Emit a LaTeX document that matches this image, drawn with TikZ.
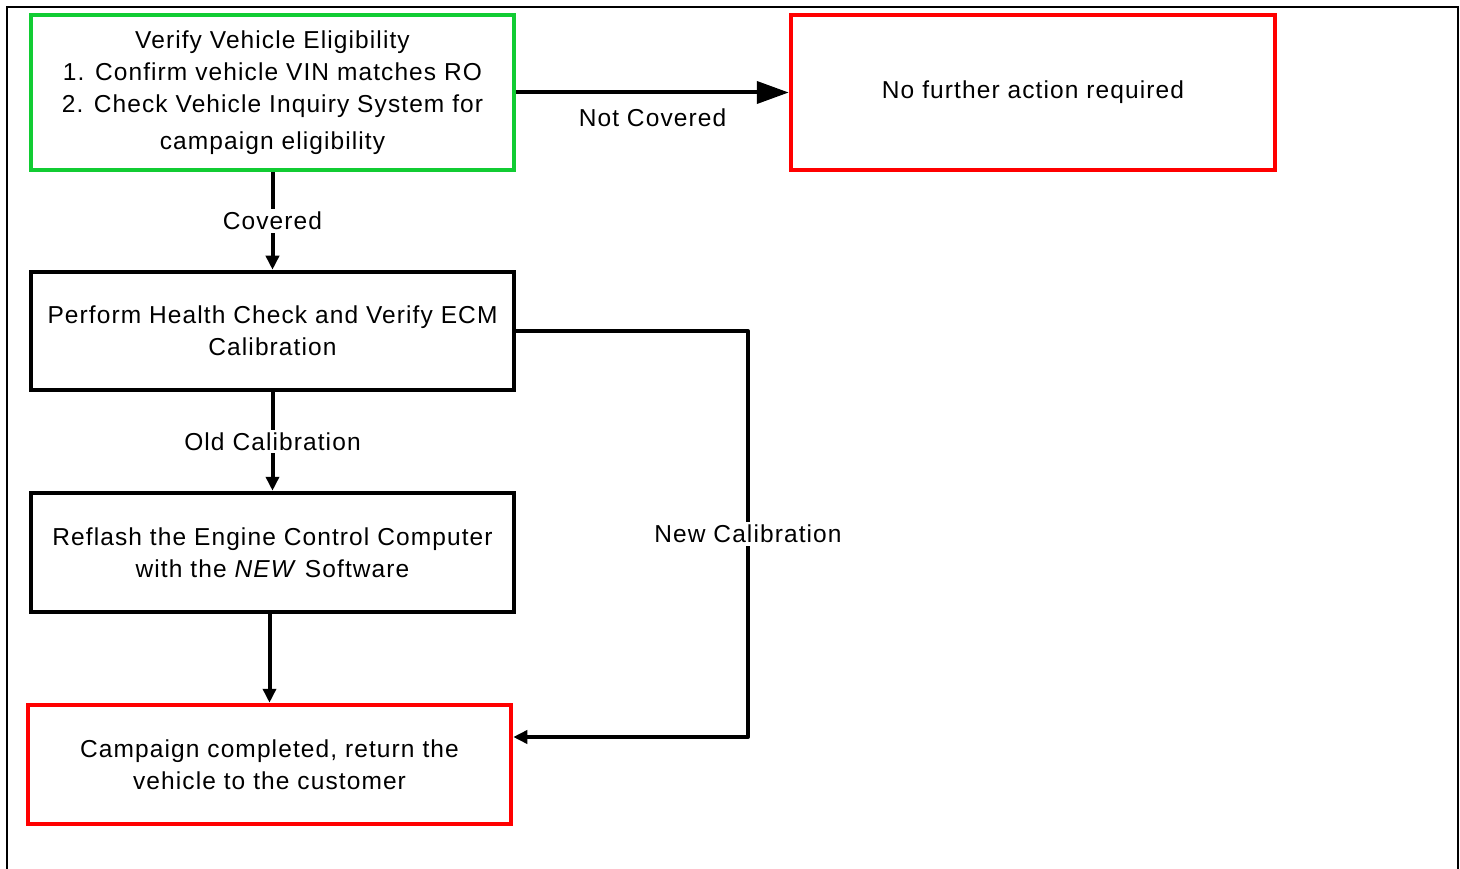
\documentclass[tikz,border=0pt]{standalone}
\usepackage{fontspec}
\setmainfont{Liberation Sans}[LetterSpace=4.5]
\usetikzlibrary{arrows.meta}
\definecolor{boxgreen}{RGB}{17,204,51}
\definecolor{boxred}{RGB}{255,0,0}
\begin{document}
\begin{tikzpicture}[x=1pt,y=-1pt,
  txt/.style={font=\fontsize{24.5}{32}\selectfont},
  box/.style={txt, draw, line width=4.5pt, minimum width=483pt, align=center, inner sep=0pt},
  arr/.style={line width=4pt, -{Triangle[length=14pt,width=13pt]}},
  bigarr/.style={line width=4pt, -{Triangle[length=32pt,width=22pt]}},
  lbl/.style={txt, fill=white, inner sep=3pt}]
\useasboundingbox (0,0) rectangle (1460,869);
\draw[line width=2pt] (7,869) -- (7,7) -- (1458,7) -- (1458,869);

\node[box, draw=boxgreen, minimum height=155pt] (g) at (272.5,92.5)
  {Verify Vehicle Eligibility\\1. Confirm vehicle VIN matches RO\\2. Check Vehicle Inquiry System for\\[5pt]campaign eligibility};
\node[box, draw=boxred, minimum width=484pt, minimum height=155pt] (r1) at (1033,92.5)
  {No further action required};
\node[box, minimum height=118pt] (b2) at (272.5,331)
  {Perform Health Check and Verify ECM\\Calibration};
\node[box, minimum height=119pt] (b3) at (272.5,552.5)
  {Reflash the Engine Control Computer\\with the \textit{NEW} Software};
\node[box, draw=boxred, minimum height=119pt] (b4) at (269.5,764.5)
  {Campaign completed, return the\\vehicle to the customer};

\draw[bigarr] (g.east) -- node[txt, inner sep=0pt, yshift=-25pt] (nclbl) {Not Covered} (r1.west);
\draw[arr] (g.south) -- node[lbl] (cov) {Covered} (b2.north);
\draw[arr] (b2.south) -- node[lbl] (old) {Old Calibration} (b3.north);
\draw[arr] (b3.south -| b4.north) -- (b4.north);

\coordinate (n1) at (748,331);
\coordinate (n2) at (748,737);
\draw[arr, line join=round] (b2.east) -- (n1) -- node[lbl] (newc) {New Calibration} (n2) -- (b4.east |- n2);
\end{tikzpicture}
\end{document}
